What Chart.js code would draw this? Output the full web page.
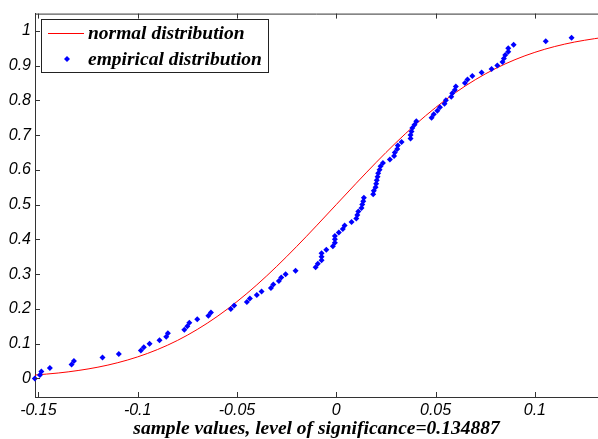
<!DOCTYPE html>
<html>
<head>
<meta charset="utf-8">
<script src="https://cdn.jsdelivr.net/npm/chart.js@4"></script>
<style>
    body { margin: 0; background: #fff; }
    #cdfChart { display: block; }
</style>
</head>
<body>
<canvas id="cdfChart" width="598" height="439"></canvas>
<script>
// Sorted sample values and their empirical CDF levels
const empiricalX = [
    -0.1518, -0.1492, -0.1485, -0.1442, -0.1333, -0.1321, -0.1177, -0.1095, -0.0984, -0.0969,
    -0.0940, -0.0890, -0.0856, -0.0848, -0.0765, -0.0750, -0.0740, -0.0700, -0.0644, -0.0631,
    -0.0531, -0.0514, -0.0450, -0.0435, -0.0400, -0.0376, -0.0329, -0.0317, -0.0289, -0.0277,
    -0.0255, -0.0205, -0.0104, -0.0093, -0.0074, -0.0074, -0.0074, -0.0050, -0.0017, -0.0007,
    -0.0007, -0.0007, 0.0013, 0.0033, 0.0042, 0.0077, 0.0101, 0.0106, 0.0111, 0.0127,
    0.0131, 0.0136, 0.0139, 0.0186, 0.0189, 0.0198, 0.0201, 0.0204, 0.0208, 0.0211,
    0.0218, 0.0223, 0.0235, 0.0270, 0.0291, 0.0295, 0.0307, 0.0310, 0.0329, 0.0374,
    0.0374, 0.0379, 0.0383, 0.0394, 0.0403, 0.0480, 0.0491, 0.0509, 0.0522, 0.0545,
    0.0552, 0.0579, 0.0584, 0.0597, 0.0602, 0.0648, 0.0661, 0.0685, 0.0732, 0.0782,
    0.0811, 0.0837, 0.0844, 0.0851, 0.0866, 0.0866, 0.0893, 0.1055, 0.1185
];
const empiricalY = [
    0.00, 0.01, 0.02, 0.03, 0.04, 0.05, 0.06, 0.07, 0.08, 0.09,
    0.10, 0.11, 0.12, 0.13, 0.14, 0.15, 0.16, 0.17, 0.18, 0.19,
    0.20, 0.21, 0.22, 0.23, 0.24, 0.25, 0.26, 0.27, 0.28, 0.29,
    0.30, 0.31, 0.32, 0.33, 0.34, 0.35, 0.36, 0.37, 0.38, 0.39,
    0.40, 0.41, 0.42, 0.43, 0.44, 0.45, 0.46, 0.47, 0.48, 0.49,
    0.50, 0.51, 0.52, 0.53, 0.54, 0.55, 0.56, 0.57, 0.58, 0.59,
    0.60, 0.61, 0.62, 0.63, 0.64, 0.65, 0.66, 0.67, 0.68, 0.69,
    0.70, 0.71, 0.72, 0.73, 0.74, 0.75, 0.76, 0.77, 0.78, 0.79,
    0.80, 0.81, 0.82, 0.83, 0.84, 0.85, 0.86, 0.87, 0.88, 0.89,
    0.90, 0.91, 0.92, 0.93, 0.94, 0.95, 0.96, 0.97, 0.98
];

// Fitted normal CDF, sampled along the x range
const normalX = [
    -0.1517, -0.14, -0.13, -0.12, -0.11, -0.10, -0.09, -0.08, -0.07, -0.06, -0.05,
    -0.04, -0.03, -0.02, -0.01, 0, 0.01, 0.02, 0.03, 0.04, 0.05,
    0.06, 0.07, 0.08, 0.09, 0.10, 0.11, 0.12, 0.13, 0.132
];
const normalY = [
    0.0098, 0.0156, 0.0228, 0.0324, 0.0453, 0.0620, 0.0831, 0.1092, 0.1408, 0.1780, 0.2209,
    0.2691, 0.3222, 0.3792, 0.4389, 0.5000, 0.5611, 0.6208, 0.6778, 0.7309, 0.7791,
    0.8220, 0.8592, 0.8908, 0.9169, 0.9380, 0.9547, 0.9676, 0.9772, 0.9789
];

const xTicks = [-0.15, -0.1, -0.05, 0, 0.05, 0.1];
const yTicks = [0, 0.1, 0.2, 0.3, 0.4, 0.5, 0.6, 0.7, 0.8, 0.9, 1];

const axisColor = '#333';
const tickFont = { family: '"Liberation Sans", Arial, sans-serif', size: 16, style: 'italic' };
const serifBold = 'italic bold 19.5px "Liberation Serif", "Times New Roman", serif';

// inward tick marks plus the top edge of the box
const boxTicks = {
    id: 'boxTicks',
    afterDraw(chart) {
        const ctx = chart.ctx;
        const { left, right, top, bottom } = chart.chartArea;
        const xs = chart.scales.x, ys = chart.scales.y;
        ctx.save();
        ctx.strokeStyle = axisColor;
        ctx.lineWidth = 1;
        ctx.beginPath();
        ctx.moveTo(left, top + 0.5);
        ctx.lineTo(right, top + 0.5);
        xTicks.forEach(v => {
            const px = Math.round(xs.getPixelForValue(v)) + 0.5;
            ctx.moveTo(px, bottom);
            ctx.lineTo(px, bottom - 5);
            ctx.moveTo(px, top);
            ctx.lineTo(px, top + 5);
        });
        yTicks.forEach(v => {
            const py = Math.round(ys.getPixelForValue(v)) + 0.5;
            ctx.moveTo(left, py);
            ctx.lineTo(left + 5, py);
        });
        ctx.stroke();
        ctx.restore();
    }
};

// boxed legend in the upper left corner of the plot
const boxLegend = {
    id: 'boxLegend',
    afterDraw(chart) {
        const ctx = chart.ctx;
        ctx.save();
        ctx.fillStyle = '#fff';
        ctx.fillRect(41, 19, 227, 53);
        ctx.strokeStyle = '#222';
        ctx.lineWidth = 1;
        ctx.strokeRect(41.5, 19.5, 227, 53);

        ctx.strokeStyle = '#ff0000';
        ctx.beginPath();
        ctx.moveTo(48, 33.5);
        ctx.lineTo(84, 33.5);
        ctx.stroke();

        ctx.fillStyle = '#0000ff';
        ctx.beginPath();
        ctx.moveTo(67, 56);
        ctx.lineTo(70, 59);
        ctx.lineTo(67, 62);
        ctx.lineTo(64, 59);
        ctx.closePath();
        ctx.fill();

        ctx.fillStyle = '#000';
        ctx.font = serifBold;
        ctx.textBaseline = 'middle';
        ctx.fillText('normal distribution', 88, 34);
        ctx.fillText('empirical distribution', 88, 60);
        ctx.restore();
    }
};

new Chart(document.getElementById('cdfChart'), {
    type: 'scatter',
    data: {
        datasets: [
            {
                label: 'normal distribution',
                data: normalX.map((x, i) => ({ x: x, y: normalY[i] })),
                showLine: true,
                borderColor: '#ff0000',
                borderWidth: 1,
                pointRadius: 0,
                cubicInterpolationMode: 'monotone',
                order: 1
            },
            {
                label: 'empirical distribution',
                data: empiricalX.map((x, i) => ({ x: x, y: empiricalY[i] })),
                backgroundColor: '#0000ff',
                borderColor: '#0000ff',
                borderWidth: 0,
                pointStyle: 'rectRot',
                pointRadius: 3,
                clip: false,
                order: 0
            }
        ]
    },
    options: {
        responsive: false,
        animation: false,
        layout: { autoPadding: false, padding: { top: 11, right: 0, left: 0, bottom: 0 } },
        plugins: {
            legend: { display: false },
            tooltip: { enabled: false }
        },
        scales: {
            x: {
                type: 'linear',
                min: -0.1517,
                max: 0.1318,
                afterBuildTicks: scale => { scale.ticks = xTicks.map(v => ({ value: v })); },
                afterFit: scale => { scale.height = 42; },
                grid: { display: false, drawTicks: false },
                border: { display: true, color: axisColor, width: 1 },
                ticks: {
                    color: '#000',
                    font: tickFont,
                    padding: 4,
                    maxRotation: 0,
                    callback: v => String(v)
                },
                title: {
                    display: true,
                    text: 'sample values, level of significance=0.134887',
                    color: '#000',
                    font: { family: '"Liberation Serif", "Times New Roman", serif', size: 19.5, style: 'italic', weight: 'bold', lineHeight: 1.0 },
                    padding: { top: 0, bottom: 0 }
                }
            },
            y: {
                type: 'linear',
                min: -0.0534,
                max: 1.0494,
                afterBuildTicks: scale => { scale.ticks = yTicks.map(v => ({ value: v })); },
                afterFit: scale => { scale.width = 35; },
                grid: { display: false, drawTicks: false },
                border: { display: true, color: axisColor, width: 1 },
                ticks: {
                    color: '#000',
                    font: tickFont,
                    padding: 4,
                    callback: v => String(v)
                }
            }
        }
    },
    plugins: [boxTicks, boxLegend]
});
</script>
</body>
</html>
